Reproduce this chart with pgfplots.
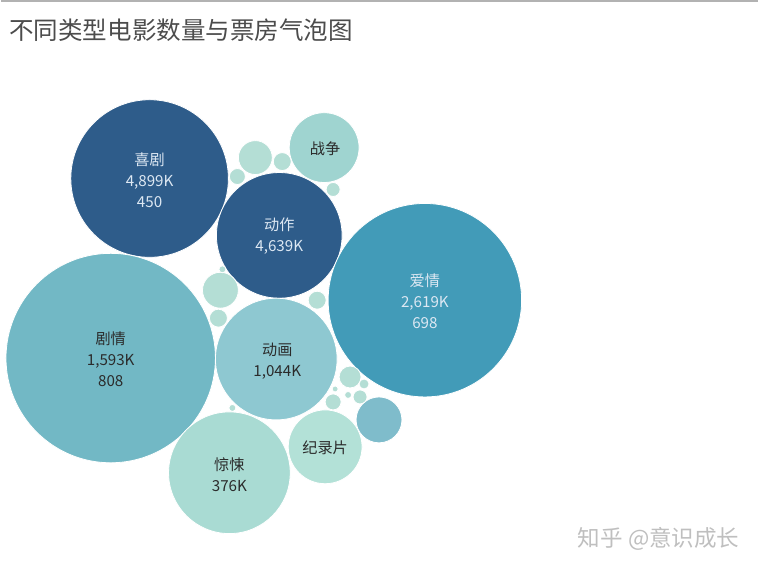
\documentclass[border=0pt]{standalone}
\usepackage{pgfplots}
\pgfplotsset{compat=1.18}
\usepackage{pgfplotstable}
\usepackage{fontspec}
\setmainfont{Noto Sans CJK SC}

\definecolor{cDark}{HTML}{2E5C8A}
\definecolor{cTeal}{HTML}{429BB8}
\definecolor{cMid}{HTML}{72B8C5}
\definecolor{cAni}{HTML}{8EC8D1}
\definecolor{cWar}{HTML}{9FD4D0}
\definecolor{cThr}{HTML}{A9DBD3}
\definecolor{cDoc}{HTML}{B3E1D7}
\definecolor{cMed}{HTML}{7FBCCB}
\definecolor{cSm}{HTML}{B4DED5}
\definecolor{txtLight}{HTML}{DDE8F3}
\definecolor{txtDark}{HTML}{2B2B2B}

\tikzset{lab/.style={align=center, font=\fontsize{7.6}{10.5}\selectfont}}

% bubble centres and radii, in pixels of the reference (y downwards)
\pgfplotstableread{
x y r c
149 179 79 dark
279 236 63 dark
425 301 97 teal
110 359 105 mid
276 360 61 ani
229 474 61 thr
325 448 37 doc
324 148 35 war
379 421 23 med
255 158 17 sm
282 162 9 sm
237 177 8 sm
333 190 7 sm
220 291 18 sm
218 319 9 sm
222 270 3.5 sm
317 301 9 sm
350 378 11 sm
364 385 5 sm
360 398 7 sm
348 396 3.5 sm
335 390 3 sm
333 403 8 sm
232 409 3.5 sm
}\bubbles

\begin{document}
\begin{tikzpicture}
\begin{axis}[
    scale only axis,
    width=379.5pt, height=285.5pt,
    xmin=0, xmax=759, ymin=0, ymax=571,
    y dir=reverse,
    hide axis,
    clip=false,
    clip mode=individual,
]
\path (axis cs:0,0) rectangle (axis cs:759,571);
\draw[color=black!30, line width=1pt] (axis cs:0,1) -- (axis cs:759,1);

\addplot[
    scatter, only marks, mark=*,
    scatter src=explicit symbolic,
    scatter/classes={
        dark={fill=cDark, draw=white},
        teal={fill=cTeal, draw=white},
        mid={fill=cMid, draw=white},
        ani={fill=cAni, draw=white},
        thr={fill=cThr, draw=white},
        doc={fill=cDoc, draw=white},
        war={fill=cWar, draw=white},
        med={fill=cMed, draw=white},
        sm={fill=cSm, draw=white}},
    visualization depends on={\thisrow{r} \as \rad},
    scatter/@pre marker code/.append style={/tikz/mark size={\rad*0.5pt}, /tikz/line width=0.4pt},
] table[x=x, y=y, meta=c] {\bubbles};

% title and watermark
\node[anchor=west, inner sep=0pt, text=black!70, font=\fontsize{12.3}{14}\selectfont] at (axis cs:8,30) {不同类型电影数量与票房气泡图};
\node[anchor=west, inner sep=0pt, text=black!25, font=\fontsize{11.3}{13}\selectfont] at (axis cs:578,540) {知乎 @意识成长};

% bubble labels
\node[lab, text=txtLight] at (axis cs:149,181) {喜剧\\4,899K\\450};
\node[lab, text=txtLight] at (axis cs:279,237) {动作\\4,639K};
\node[lab, text=txtLight] at (axis cs:425,302) {爱情\\2,619K\\698};
\node[lab, text=txtDark] at (axis cs:110,360) {剧情\\1,593K\\808};
\node[lab, text=txtDark] at (axis cs:277,362) {动画\\1,044K};
\node[lab, text=txtDark] at (axis cs:229,476) {惊悚\\376K};
\node[lab, text=txtDark] at (axis cs:325,449) {纪录片};
\node[lab, text=txtDark] at (axis cs:325,149) {战争};
\end{axis}
\end{tikzpicture}
\end{document}
